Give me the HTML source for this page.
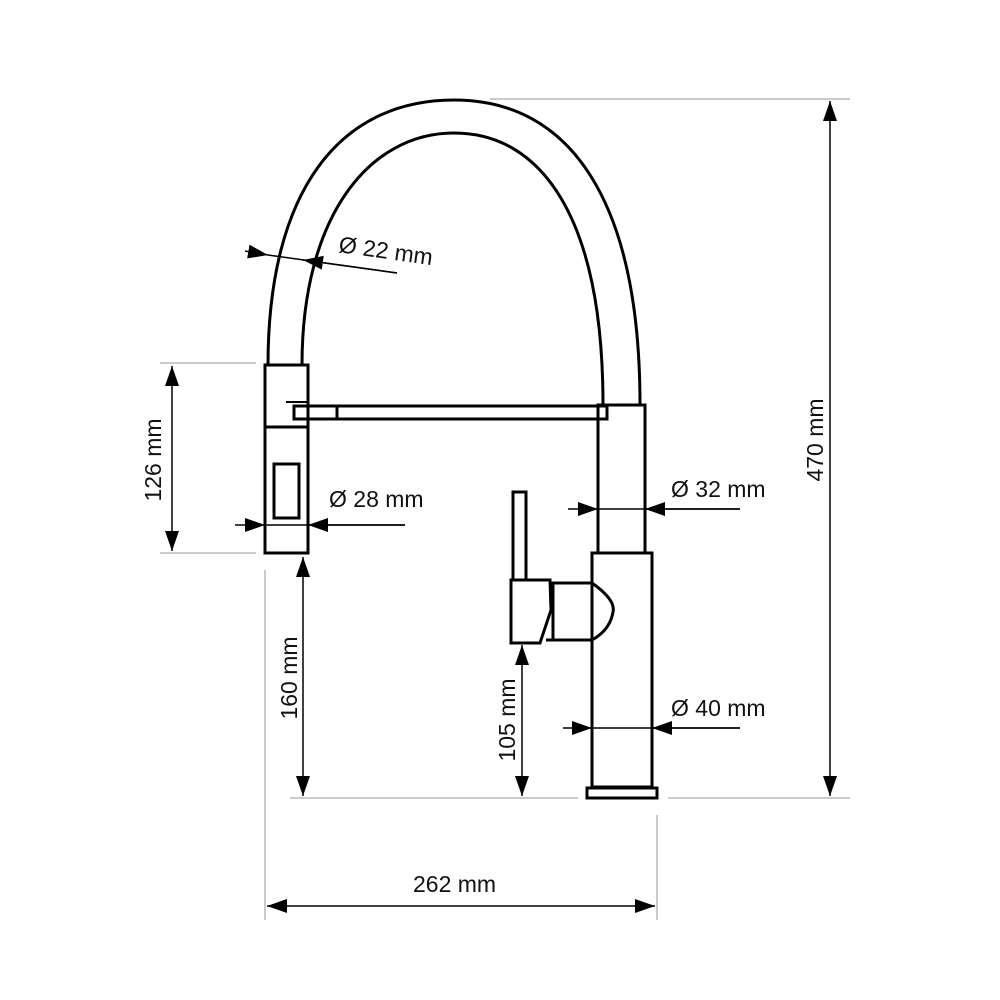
<!DOCTYPE html>
<html><head><meta charset="utf-8"><style>
html,body{margin:0;padding:0;background:#fff;}
svg{display:block;}
text{font-family:"Liberation Sans",Arial,sans-serif;font-size:23px;fill:#111;}
</style></head><body>
<svg width="1000" height="1000" viewBox="0 0 1000 1000">
<defs>
<marker id="a" viewBox="0 0 20 14" refX="20" refY="7" markerWidth="20" markerHeight="14" orient="auto-start-reverse" markerUnits="userSpaceOnUse"><path d="M0,0 L20,7 L0,14 z" fill="#000"/></marker>
</defs>
<g fill="none" stroke="#000" stroke-width="3">
<path d="M268,365 C268,190 340,100 454,100 C570,100 640,200 640,405"/>
<path d="M302,365 C302,215 370,133 454,133 C540,133 603,215 603,405"/>
<rect x="265" y="365" width="43" height="188"/>
<line x1="265" y1="427" x2="308" y2="427"/>
<rect x="274" y="464" width="25" height="54"/>
<line x1="286" y1="402" x2="308" y2="402" stroke-width="2"/>
<rect x="294" y="406" width="313" height="13"/>
<line x1="337" y1="406" x2="337" y2="419"/>
<rect x="598" y="405" width="47" height="148"/>
<rect x="592" y="553" width="60" height="234"/>
<rect x="587" y="788" width="70" height="10"/>
<rect x="513" y="492" width="13" height="88"/>
<path d="M511,580 L550,580 L551,610 L540,643 L511,643 Z"/>
<path d="M551,583 L592,583 Q616,600 613,612 Q610,630 592,640 L546,640"/>
<line x1="553" y1="583" x2="553" y2="640"/>
</g>
<g stroke="#bbb" stroke-width="1.5">
<line x1="490" y1="99" x2="850" y2="99"/>
<line x1="290" y1="798" x2="578" y2="798"/>
<line x1="668" y1="798" x2="850" y2="798"/>
<line x1="160" y1="363" x2="256" y2="363"/>
<line x1="160" y1="553" x2="256" y2="553"/>
<line x1="265" y1="570" x2="265" y2="920"/>
<line x1="657" y1="815" x2="657" y2="920"/>
</g>
<g stroke="#000" stroke-width="1.5" fill="none">
<line x1="830" y1="101" x2="830" y2="796" marker-start="url(#a)" marker-end="url(#a)"/>
<line x1="267" y1="906" x2="655" y2="906" marker-start="url(#a)" marker-end="url(#a)"/>
<line x1="172" y1="366" x2="172" y2="551" marker-start="url(#a)" marker-end="url(#a)"/>
<line x1="303" y1="557" x2="303" y2="796" marker-start="url(#a)" marker-end="url(#a)"/>
<line x1="522" y1="645" x2="522" y2="796" marker-start="url(#a)" marker-end="url(#a)"/>
<line x1="245" y1="251" x2="268" y2="255" marker-end="url(#a)"/>
<line x1="268" y1="255" x2="397" y2="273"/>
<line x1="397" y1="273" x2="303" y2="260" marker-end="url(#a)"/>
<line x1="235" y1="525" x2="265" y2="525" marker-end="url(#a)"/>
<line x1="265" y1="525" x2="405" y2="525"/>
<line x1="405" y1="525" x2="308" y2="525" marker-end="url(#a)"/>
<line x1="568" y1="509" x2="598" y2="509" marker-end="url(#a)"/>
<line x1="598" y1="509" x2="740" y2="509"/>
<line x1="740" y1="509" x2="645" y2="509" marker-end="url(#a)"/>
<line x1="563" y1="728" x2="592" y2="728" marker-end="url(#a)"/>
<line x1="592" y1="728" x2="740" y2="728"/>
<line x1="740" y1="728" x2="652" y2="728" marker-end="url(#a)"/>
</g>
<text x="338" y="252" transform="rotate(8 338 252)">Ø 22 mm</text>
<text x="329" y="507">Ø 28 mm</text>
<text x="671" y="497">Ø 32 mm</text>
<text x="671" y="716">Ø 40 mm</text>
<text x="413" y="892">262 mm</text>
<text transform="translate(161,460) rotate(-90)" text-anchor="middle">126 mm</text>
<text transform="translate(297,678) rotate(-90)" text-anchor="middle">160 mm</text>
<text transform="translate(515,720) rotate(-90)" text-anchor="middle">105 mm</text>
<text transform="translate(823,440) rotate(-90)" text-anchor="middle">470 mm</text>
</svg>
</body></html>
